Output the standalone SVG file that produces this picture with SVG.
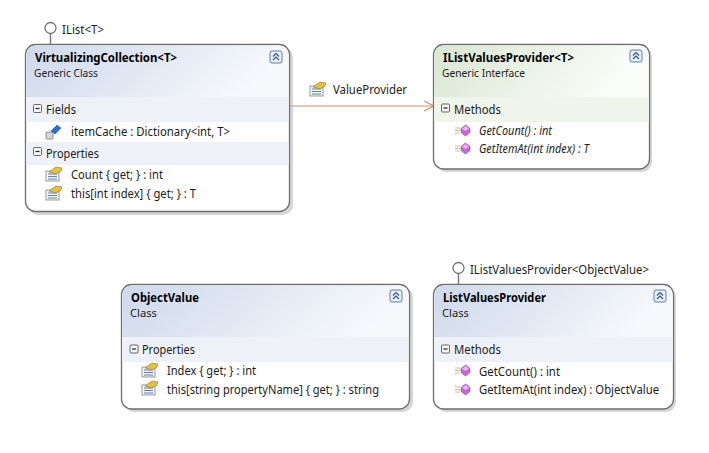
<svg xmlns="http://www.w3.org/2000/svg" width="709" height="453" viewBox="0 0 709 453">
<style>
text{font-family:"Noto Sans","Open Sans","Liberation Sans",sans-serif;font-size:12px;fill:#1c1c1c}
.t{font-weight:700;font-size:12px;fill:#000}
.s{font-size:11.500px}
.i{font-style:italic}
.box{fill:#fff;stroke:#6f6f6f;stroke-width:1.3}
.shadow{fill:#b5b5b5;opacity:.55}
.band{fill:#eef1f8}
.band2{fill:#f0f5ec}
.lol{fill:#fff;stroke:#6f6f6f;stroke-width:1.3}
.stem{stroke:#6f6f6f;stroke-width:1.3;fill:none}
</style>
<defs>
<linearGradient id="hb" x1="0" y1="0" x2="1" y2="0.2"><stop offset="0" stop-color="#cfd9ec"/><stop offset=".6" stop-color="#e6ebf5"/><stop offset="1" stop-color="#f8f9fd"/></linearGradient>
<linearGradient id="hg" x1="0" y1="0" x2="1" y2="0.2"><stop offset="0" stop-color="#d9e6d2"/><stop offset=".6" stop-color="#eef4ea"/><stop offset="1" stop-color="#fbfdfa"/></linearGradient>
<g id="collapse"><rect x="-6" y="-6" width="12" height="12" rx="2" fill="#eaf0fa" stroke="#5f7fa6"/><path d="M-3 -0.5L0 -3.500L3 -0.5M-3 3L0 0L3 3" fill="none" stroke="#35557f" stroke-width="1.200"/></g>
<g id="minus"><rect x="-4" y="-4" width="8" height="8" rx="1" fill="#f4f4f4" stroke="#666"/><path d="M-2 0H2" stroke="#222" stroke-width="1.200"/></g>
<g id="prop"><rect x="0" y="5" width="13" height="10" fill="#f2f4f8" stroke="#7a8290" stroke-width=".8"/><path d="M2 8H11M2 10.500H11M2 13H11" stroke="#5570a0" stroke-width=".9"/><path d="M3 6L10 1L16 2L15 5L10 8Z" fill="#e2c040" stroke="#8a7420" stroke-width=".6"/></g>
<g id="method"><path d="M0 3H5M0 5.500H5M0 8H5" stroke="#c9c58a" stroke-width="1"/><path d="M10.500 0L15 3.500L15 7.500L10.500 11L6 7.500L6 3.500Z" fill="#c868d8" stroke="#8a4a98" stroke-width=".6"/><path d="M10.500 1L14 3.700L10.500 6L7 3.700Z" fill="#eab8f0"/></g>
<g id="field"><rect x="0" y="7" width="7" height="7" rx="1" fill="#d8d8d8" stroke="#777" stroke-width=".8"/><path d="M5 6L11 0L15 3L9 9Z" fill="#2f6fd0" stroke="#1f4f9a" stroke-width=".5"/></g>
</defs>

<g id="connectors">
<path d="M290 106H433" fill="none" stroke="#cc9070" stroke-width="1.200"/>
<path d="M424 101L434 106L424 111" fill="none" stroke="#cc9070" stroke-width="1.100"/>
<use href="#prop" x="310" y="81"/>
<text x="333" y="94" textLength="74" lengthAdjust="spacingAndGlyphs">ValueProvider</text>
</g>

<g id="VirtualizingCollection">
<circle class="lol" cx="50.500" cy="28" r="5.500"/><path class="stem" d="M50.500 33.500V44"/>
<text x="62" y="34" textLength="42" lengthAdjust="spacingAndGlyphs">IList&lt;T&gt;</text>
<rect class="shadow" x="28" y="47" width="265" height="168" rx="10"/>
<rect class="box" x="25.500" y="44.500" width="264" height="167" rx="10"/>
<path d="M26.500 97V54.500a9 9 0 0 1 9-9H279.500a9 9 0 0 1 9 9V97Z" fill="url(#hb)"/>
<rect class="band" x="26.200" y="97" width="262.600" height="25"/>
<rect class="band" x="26.200" y="142" width="262.600" height="23"/>
<use href="#collapse" x="276" y="57"/>
<use href="#minus" x="37.500" y="108.500"/>
<use href="#minus" x="37.500" y="151.500"/>
<text class="t" x="35" y="61.500" textLength="142" lengthAdjust="spacingAndGlyphs">VirtualizingCollection&lt;T&gt;</text>
<text class="s" x="34" y="77" textLength="64" lengthAdjust="spacingAndGlyphs">Generic Class</text>
<text x="46" y="114" textLength="30" lengthAdjust="spacingAndGlyphs">Fields</text>
<use href="#field" x="46" y="125"/>
<text x="71" y="136" textLength="159" lengthAdjust="spacingAndGlyphs">itemCache : Dictionary&lt;int, T&gt;</text>
<text x="46" y="158" textLength="53" lengthAdjust="spacingAndGlyphs">Properties</text>
<use href="#prop" x="46" y="166"/>
<text x="71" y="179" textLength="92" lengthAdjust="spacingAndGlyphs">Count { get; } : int</text>
<use href="#prop" x="46" y="185"/>
<text x="71" y="198" textLength="125" lengthAdjust="spacingAndGlyphs">this[int index] { get; } : T</text>
</g>

<g id="IListValuesProvider">
<rect class="shadow" x="436" y="47" width="216" height="125" rx="10"/>
<rect class="box" x="433.500" y="44.500" width="216" height="124.500" rx="10"/>
<path d="M434.500 97V54.500a9 9 0 0 1 9-9H639.500a9 9 0 0 1 9 9V97Z" fill="url(#hg)"/>
<rect class="band2" x="434.200" y="97" width="214.600" height="25"/>
<use href="#collapse" x="636" y="56"/>
<use href="#minus" x="445.500" y="108"/>
<text class="t" x="443" y="61.500" textLength="131" lengthAdjust="spacingAndGlyphs">IListValuesProvider&lt;T&gt;</text>
<text class="s" x="442" y="77" textLength="83" lengthAdjust="spacingAndGlyphs">Generic Interface</text>
<text x="454" y="114" textLength="47" lengthAdjust="spacingAndGlyphs">Methods</text>
<use href="#method" x="455" y="125"/>
<text class="i" x="479" y="135" textLength="73" lengthAdjust="spacingAndGlyphs">GetCount() : int</text>
<use href="#method" x="455" y="143"/>
<text class="i" x="479" y="153" textLength="110" lengthAdjust="spacingAndGlyphs">GetItemAt(int index) : T</text>
</g>

<g id="ObjectValue">
<rect class="shadow" x="124" y="287" width="289" height="125" rx="10"/>
<rect class="box" x="121.500" y="284.500" width="288" height="124.500" rx="10"/>
<path d="M122.500 337V294.500a9 9 0 0 1 9-9H399.500a9 9 0 0 1 9 9V337Z" fill="url(#hb)"/>
<rect class="band" x="122.200" y="337" width="286.600" height="25"/>
<use href="#collapse" x="396" y="296"/>
<use href="#minus" x="134" y="349"/>
<text class="t" x="131" y="301.500" textLength="68" lengthAdjust="spacingAndGlyphs">ObjectValue</text>
<text class="s" x="130" y="317" textLength="27" lengthAdjust="spacingAndGlyphs">Class</text>
<text x="142" y="354" textLength="53" lengthAdjust="spacingAndGlyphs">Properties</text>
<use href="#prop" x="142" y="362"/>
<text x="167" y="375" textLength="89" lengthAdjust="spacingAndGlyphs">Index { get; } : int</text>
<use href="#prop" x="142" y="380"/>
<text x="167" y="394" textLength="212" lengthAdjust="spacingAndGlyphs">this[string propertyName] { get; } : string</text>
</g>

<g id="ListValuesProvider">
<circle class="lol" cx="458.500" cy="268" r="5.500"/><path class="stem" d="M458.500 273.500V285"/>
<text x="470" y="274" textLength="179" lengthAdjust="spacingAndGlyphs">IListValuesProvider&lt;ObjectValue&gt;</text>
<rect class="shadow" x="436" y="287" width="240" height="125" rx="10"/>
<rect class="box" x="433.500" y="284.500" width="240" height="124.500" rx="10"/>
<path d="M434.500 337V294.500a9 9 0 0 1 9-9H663.500a9 9 0 0 1 9 9V337Z" fill="url(#hb)"/>
<rect class="band" x="434.200" y="337" width="238.600" height="25"/>
<use href="#collapse" x="660" y="296"/>
<use href="#minus" x="445.500" y="349"/>
<text class="t" x="443" y="301.500" textLength="103" lengthAdjust="spacingAndGlyphs">ListValuesProvider</text>
<text class="s" x="442" y="317" textLength="27" lengthAdjust="spacingAndGlyphs">Class</text>
<text x="454" y="354" textLength="47" lengthAdjust="spacingAndGlyphs">Methods</text>
<use href="#method" x="455" y="365"/>
<text x="479" y="376" textLength="81" lengthAdjust="spacingAndGlyphs">GetCount() : int</text>
<use href="#method" x="455" y="384"/>
<text x="479" y="394" textLength="180" lengthAdjust="spacingAndGlyphs">GetItemAt(int index) : ObjectValue</text>
</g>
</svg>
